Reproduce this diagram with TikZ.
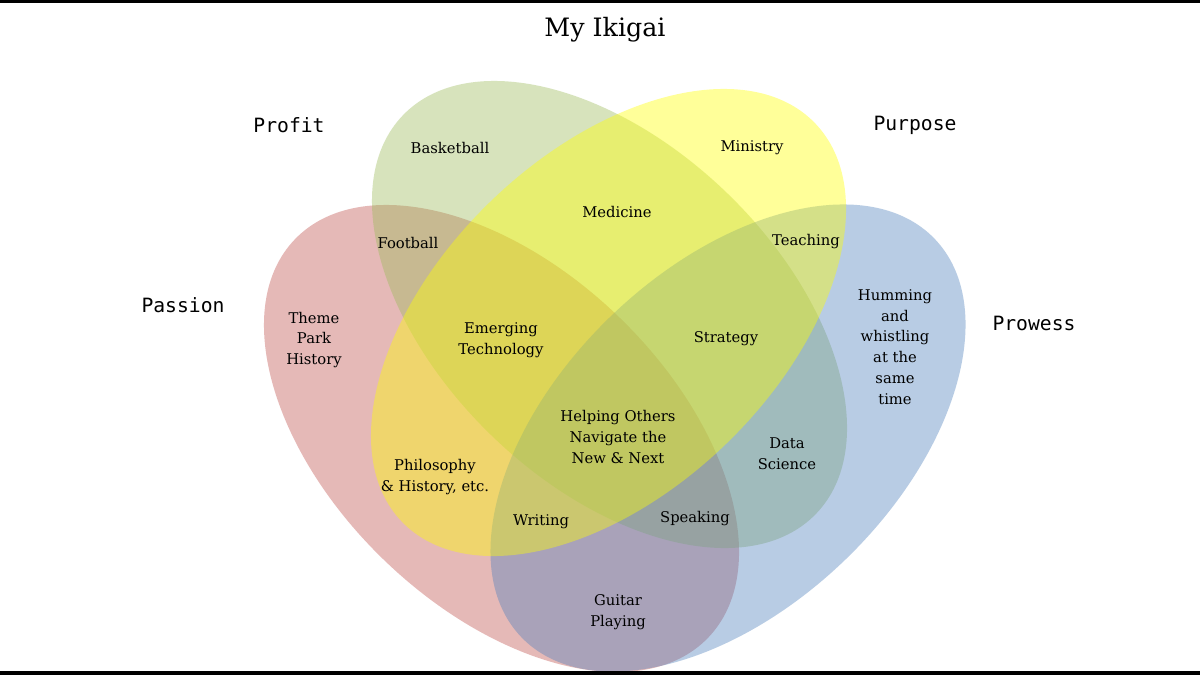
\documentclass[tikz,border=0pt]{standalone}
\usepackage{fontspec}
\setmainfont{DejaVu Serif}
\newfontfamily\monofont{DejaVu Sans Mono}
\usepackage{tikz}
\usetikzlibrary{positioning, calc}
\definecolor{passionred}{RGB}{192,80,77}
\definecolor{profitgreen}{RGB}{155,187,89}
\definecolor{purposeyellow}{RGB}{255,255,0}
\definecolor{prowessblue}{RGB}{79,129,189}
\tikzstyle{setshape}=[fill opacity=0.4, draw=none]
\tikzstyle{itemtext}=[align=center, inner sep=0pt, text=black, font=\fontsize{10.5}{14.7}\selectfont]
\tikzstyle{setname}=[inner sep=0pt, font=\monofont\fontsize{14}{16}\selectfont]

\begin{document}
\begin{tikzpicture}[x=0.025cm, y=-0.025cm]
        \clip (0,0) rectangle (1200,675);
        \fill[white] (0,0) rectangle (1200,675);

        % centres of the four sets
        \coordinate (passion) at (501.5,438.5);
        \coordinate (profit) at (609.5,314.5);
        \coordinate (purpose) at (608.5,322.5);
        \coordinate (prowess) at (728,438);

        \fill[passionred, setshape, rotate around={-44:(passion)}]
            (passion) ellipse [x radius=287, y radius=169];
        \fill[profitgreen, setshape, rotate around={-44:(profit)}]
            (profit) ellipse [x radius=287, y radius=169];
        \fill[prowessblue, setshape, rotate around={44:(prowess)}]
            (prowess) ellipse [x radius=287, y radius=169];
        \fill[purposeyellow, setshape, rotate around={44:(purpose)}]
            (purpose) ellipse [x radius=287, y radius=169];

        \node[inner sep=0pt, font=\fontsize{18}{22}\selectfont] (title) at (605,30) {My Ikigai};

        \node[setname] (profitname) at (289,125) {Profit};
        \node[setname] (purposename) at (915,125) {Purpose};
        \node[setname] (passionname) at (183,305) {Passion};
        \node[setname] (prowessname) at (1034,323) {Prowess};

        \node[itemtext] (basketball) at (450,148) {Basketball};
        \node[itemtext] (ministry) at (752,148) {Ministry};
        \node[itemtext] (medicine) at (617,212) {Medicine};
        \node[itemtext] (football) at (408,243) {Football};
        \node[itemtext] (teaching) at (806,242) {Teaching};
        \node[itemtext] (themepark) at (314,340) {Theme\\Park\\History};
        \node[itemtext] (emerging) at (501,340) {Emerging\\Technology};
        \node[itemtext] (strategy) at (726,339) {Strategy};
        \node[itemtext] (humming) at (895,347) {Humming\\and\\whistling\\at the\\same\\time};
        \node[itemtext] (helping) at (618,437) {Helping Others\\Navigate the\\New \& Next};
        \node[itemtext] (datasci) at (787,454) {Data\\Science};
        \node[itemtext] (philosophy) at (435,477) {Philosophy\\\& History, etc.};
        \node[itemtext] (writing) at (541,522) {Writing};
        \node[itemtext] (speaking) at (695,519) {Speaking};
        \node[itemtext] (guitar) at (618,612) {Guitar\\Playing};

        \fill[black] (0,0) rectangle (1200,3);
        \fill[black] (0,671) rectangle (1200,675);
    \end{tikzpicture}
\end{document}
